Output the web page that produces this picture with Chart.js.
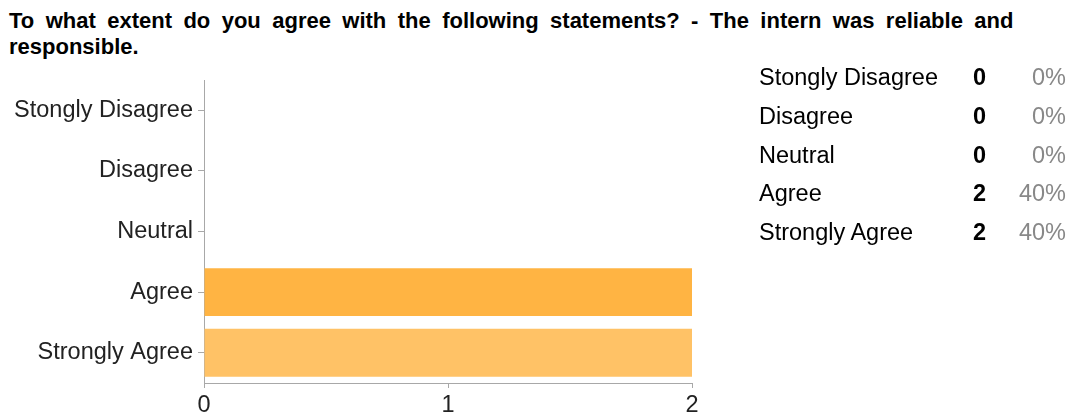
<!DOCTYPE html>
<html>
<head>
<meta charset="utf-8">
<script src="https://cdn.jsdelivr.net/npm/chart.js@4"></script>
<style>
  html, body { margin: 0; padding: 0; background: #fff; }
  body { width: 1073px; height: 417px; position: relative; overflow: hidden; font-family: "Liberation Sans", Arial, sans-serif; }
  #title { position: absolute; left: 9px; top: 8px; width: 1060px; font-weight: bold; font-size: 22px; line-height: 26px; word-spacing: 5.3px; color: #000; }
  #chart { position: absolute; left: 0; top: 0; }
  #legend { position: absolute; left: 759px; top: 58px; border-collapse: collapse; font-size: 23.5px; }
  #legend td { padding: 0; height: 38.8px; line-height: 38.8px; white-space: nowrap; }
  #legend td.lab { width: 214px; color: #000; }
  #legend td.cnt { width: 26px; font-weight: bold; color: #000; text-align: left; }
  #legend td.pct { width: 67px; color: #888; text-align: right; }
</style>
</head>
<body>
<div id="title">To what extent do you agree with the following statements? - The intern was reliable and responsible.</div>
<canvas id="chart" width="1073" height="417"></canvas>
<table id="legend"></table>
<script>
const categories = ["Stongly Disagree", "Disagree", "Neutral", "Agree", "Strongly Agree"];
const counts = [0, 0, 0, 2, 2];
const percents = ["0%", "0%", "0%", "40%", "40%"];
const xTicks = [0, 1, 2];
const barColors = ["#FFA81F", "#FFAD2E", "#FFB03A", "#FFB443", "#FFC266"];

const legend = document.getElementById('legend');
categories.forEach((c, i) => {
  const tr = document.createElement('tr');
  tr.innerHTML = '<td class="lab"></td><td class="cnt"></td><td class="pct"></td>';
  tr.children[0].textContent = c;
  tr.children[1].textContent = counts[i];
  tr.children[2].textContent = percents[i];
  legend.appendChild(tr);
});

const axisColor = '#a8a8a8';
new Chart(document.getElementById('chart'), {
  type: 'bar',
  data: {
    labels: categories,
    datasets: [{
      data: counts,
      backgroundColor: barColors,
      borderWidth: 0,
      categoryPercentage: 1,
      barPercentage: 0.79
    }]
  },
  options: {
    indexAxis: 'y',
    responsive: false,
    animation: false,
    devicePixelRatio: 1,
    layout: { padding: { top: 80, right: 381, left: 0, bottom: 0 } },
    plugins: { legend: { display: false }, tooltip: { enabled: false }, title: { display: false } },
    scales: {
      x: {
        min: 0, max: 2,
        afterFit: (s) => { s.height = 34; },
        afterBuildTicks: (s) => { s.ticks = xTicks.map(v => ({ value: v })); },
        ticks: { stepSize: 1, color: '#222', padding: 3, font: { family: 'Liberation Sans', size: 23.5 } },
        grid: { drawOnChartArea: false, drawTicks: true, tickLength: 5, tickColor: axisColor },
        border: { display: true, color: axisColor, width: 1 }
      },
      y: {
        afterFit: (s) => { s.width = 204; },
        ticks: { color: '#222', padding: 5, font: { family: 'Liberation Sans', size: 23.5 } },
        grid: { drawOnChartArea: false, drawTicks: true, tickLength: 6, tickColor: axisColor, offset: false },
        border: { display: true, color: axisColor, width: 1 }
      }
    }
  }
});
</script>
</body>
</html>
